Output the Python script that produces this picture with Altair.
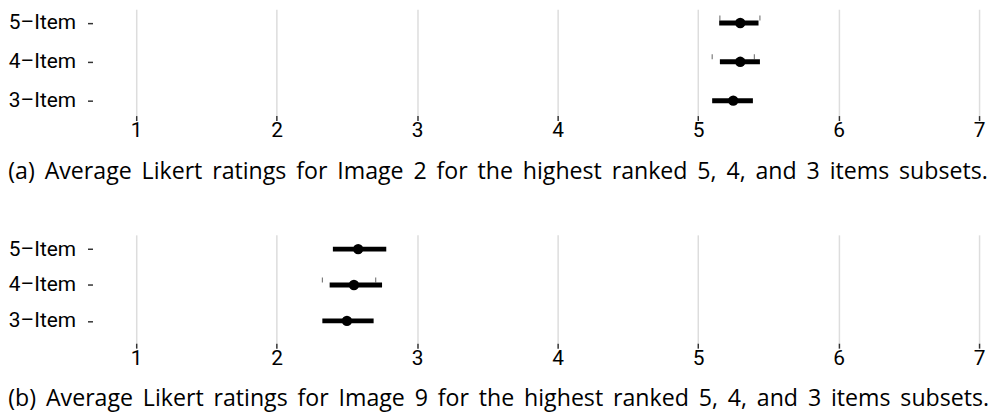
import altair as alt
import pandas as pd

subsets = ["5–Item", "4–Item", "3–Item"]

# Image 2
img2_mean = [5.30, 5.30, 5.25]
img2_lo = [5.15, 5.155, 5.10]
img2_hi = [5.43, 5.44, 5.39]
img2_tick_lo = [5.155, 5.10, None]
img2_tick_hi = [5.44, 5.40, None]

# Image 9
img9_mean = [2.58, 2.55, 2.50]
img9_lo = [2.40, 2.377, 2.325]
img9_hi = [2.78, 2.75, 2.69]
img9_tick_lo = [None, 2.325, None]
img9_tick_hi = [None, 2.705, None]

captions = [
    "(a)  Average Likert ratings for Image 2 for the highest ranked 5, 4, and 3 items subsets.",
    "(b)  Average Likert ratings for Image 9 for the highest ranked 5, 4, and 3 items subsets.",
]

LABEL_FONT = "Roboto, sans-serif"
CAPTION_FONT = "Open Sans, Noto Sans, sans-serif"


def justify(text):
    # wider spaces mimic the justified caption of the original
    return text.replace("  ", " ").replace(" ", "\u00a0\u2009")


def panel(mean, lo, hi, tlo, thi, caption, height, pad, align, title_offset):
    df = pd.DataFrame({"subset": subsets, "mean": mean, "lo": lo, "hi": hi})
    trows = []
    for s, a, b in zip(subsets, tlo, thi):
        if a is not None:
            trows.append({"subset": s, "v": a})
        if b is not None:
            trows.append({"subset": s, "v": b})
    tdf = pd.DataFrame(trows)

    xscale = alt.Scale(domain=[1, 7], nice=False, zero=False)
    xaxis = alt.Axis(
        values=[1, 2, 3, 4, 5, 6, 7], format="d", title=None, grid=True,
        gridColor="#dddddd", gridWidth=1.5, domain=False, tickSize=5,
        tickColor="#333333", tickWidth=1.5, labelFont=LABEL_FONT,
        labelFontSize=21, labelColor="#000000", labelPadding=-1,
        labelFlush=False,
    )
    yscale = alt.Scale(type="point", padding=pad, align=align)
    yaxis = alt.Axis(
        title=None, grid=False, domain=False, tickSize=5, tickColor="#333333",
        tickWidth=1.5, offset=44, labelPadding=12, labelFont=LABEL_FONT,
        labelFontSize=21, labelColor="#000000",
    )
    y = alt.Y("subset:N", sort=subsets, scale=yscale, axis=yaxis)

    rule = alt.Chart(df).mark_rule(strokeWidth=5, color="black").encode(
        x=alt.X("lo:Q", scale=xscale, axis=xaxis), x2="hi:Q", y=y
    )
    dots = alt.Chart(df).mark_circle(size=110, color="black", opacity=1).encode(
        x=alt.X("mean:Q", scale=xscale), y=y
    )
    layers = [rule, dots]
    if len(tdf):
        ticks = alt.Chart(tdf).mark_tick(
            orient="vertical", size=5, thickness=1, color="#222222", yOffset=-5
        ).encode(x=alt.X("v:Q", scale=xscale), y=y)
        layers.append(ticks)
    return alt.layer(*layers).properties(
        width=848, height=height,
        title=alt.TitleParams(
            justify(caption), orient="bottom", anchor="start", font=CAPTION_FONT,
            fontSize=23.3, fontWeight="normal", color="#000000",
            offset=title_offset,
        ),
    )


top = panel(img2_mean, img2_lo, img2_hi, img2_tick_lo, img2_tick_hi,
            captions[0], 107, 0.37, 0.48, 21)
bottom = panel(img9_mean, img9_lo, img9_hi, img9_tick_lo, img9_tick_hi,
               captions[1], 109, 0.51, 0.39, 20)

chart = alt.vconcat(top, bottom, spacing=51).properties(
    padding=0
).configure_view(stroke=None).configure_title(frame="bounds")

chart.save("out.html", embed_options={"renderer": "svg", "actions": False})
